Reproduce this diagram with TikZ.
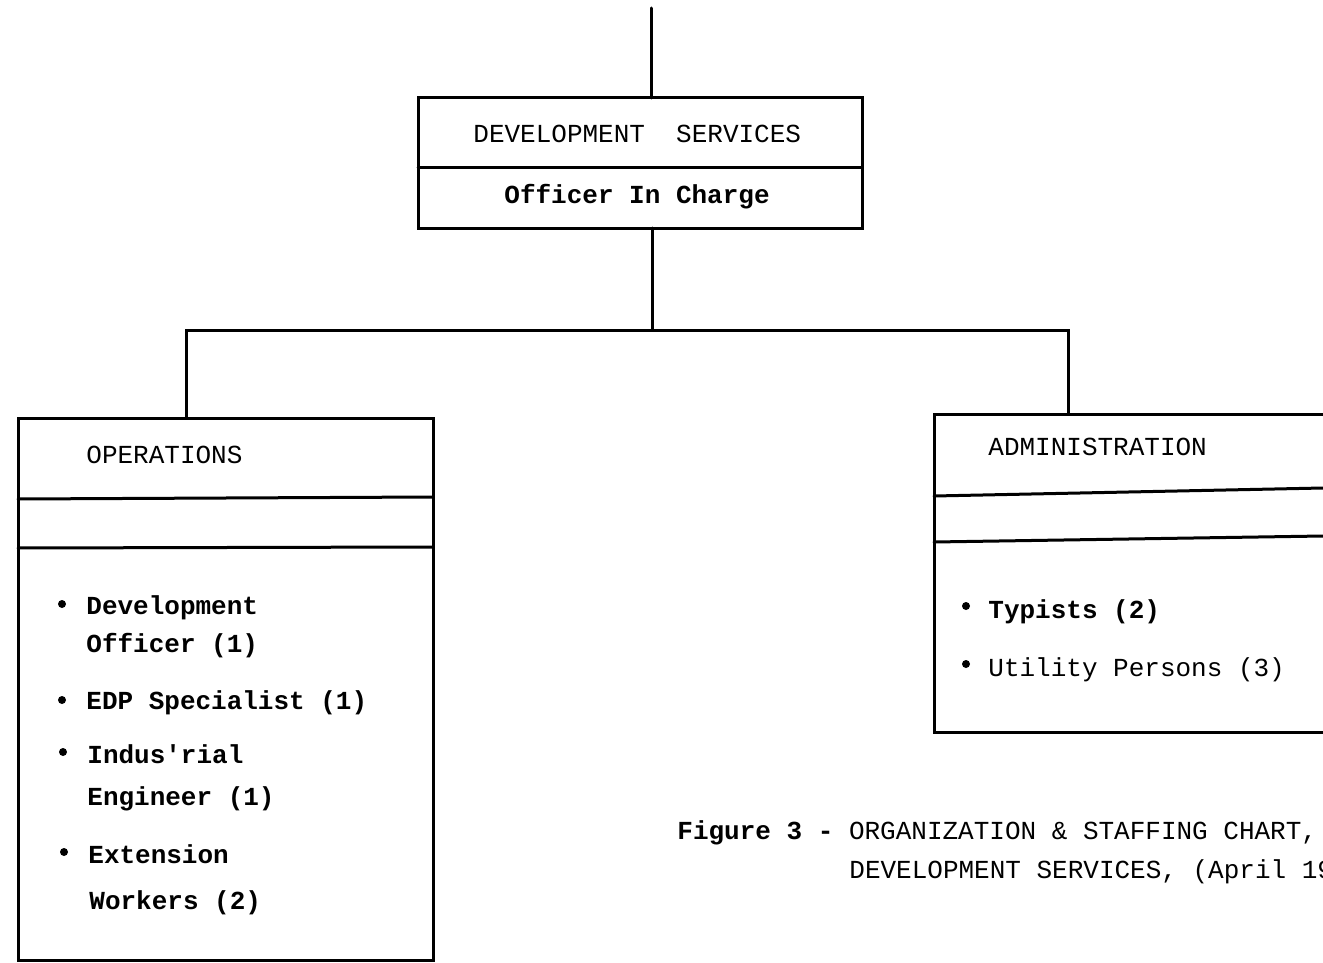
\documentclass[tikz,border=0pt]{standalone}
\usepackage{fontspec}
\newfontfamily\tw{Liberation Mono}
\begin{document}
\begin{tikzpicture}[x=0.5pt,y=-0.5pt,
  rule/.style={line width=1.5pt,line cap=round},
  box/.style={draw,line width=1.5pt,rectangle,inner sep=0pt,outer sep=0pt,anchor=north west},
  txt/.style={anchor=base west,inner sep=0pt,font=\tw\fontsize{13pt}{15pt}\selectfont},
  btxt/.style={txt,font=\tw\bfseries\fontsize{13pt}{15pt}\selectfont},
  dot/.style={fill,radius=2pt}]
\useasboundingbox (0,0) rectangle (1323,963);
\clip (0,0) rectangle (1323,963);

% boxes
\node[box,minimum width=222pt,minimum height=65pt] (ds) at (418,98) {};
\node[box,minimum width=207.5pt,minimum height=271pt] (ops) at (18,418) {};
\node[box,minimum width=240pt,minimum height=159pt] (adm) at (934,414) {};

% compartment rules
\draw[rule] (418,168) -- (862,168);
\draw[rule] (18,499) -- (433,497);
\draw[rule] (18,548) -- (433,547);
\draw[rule] (934,496) -- (1323,488);
\draw[rule] (934,542) -- (1323,536);

% connectors
\coordinate (top) at (651,8);
\coordinate (bus) at (652,330);
\coordinate (busL) at (186,330);
\coordinate (busR) at (1068,330);
\draw[rule] (top) -- (top |- ds.north);
\draw[rule] (ds.south -| bus) -- (bus);
\draw[rule] (busL |- ops.north) -- (busL) -- (busR) -- (busR |- adm.north);

% titles
\node[txt] (dsT) at (473,143) {DEVELOPMENT\ \ SERVICES};
\node[btxt] (dsO) at (504,204) {Officer In Charge};
\node[txt] (opsT) at (86,463) {OPERATIONS};
\node[txt] (admT) at (988,455) {ADMINISTRATION};

% operations staff
\fill[dot] (62,604) circle;
\node[btxt] (o1) at (86,614) {Development};
\node[btxt] (o1b) at (86,652) {Officer (1)};
\fill[dot] (62,700) circle;
\node[btxt] (o2) at (86,709) {EDP Specialist (1)};
\fill[dot] (63,752) circle;
\node[btxt] (o3) at (87,763) {Indus'rial};
\node[btxt] (o3b) at (87,805) {Engineer (1)};
\fill[dot] (64,852) circle;
\node[btxt] (o4) at (88,863) {Extension};
\node[btxt] (o4b) at (89,909) {Workers (2)};

% administration staff
\fill[dot] (966,606) circle;
\node[btxt] (a1) at (988,618) {Typists (2)};
\fill[dot] (966,664) circle;
\node[txt] (a2) at (988,676) {Utility Persons (3)};

% caption
\node[txt] (cap1) at (677,839) {{\bfseries Figure 3 -} ORGANIZATION \& STAFFING CHART,};
\node[txt] (cap2) at (849,878) {DEVELOPMENT SERVICES, (April 19};
\end{tikzpicture}
\end{document}
